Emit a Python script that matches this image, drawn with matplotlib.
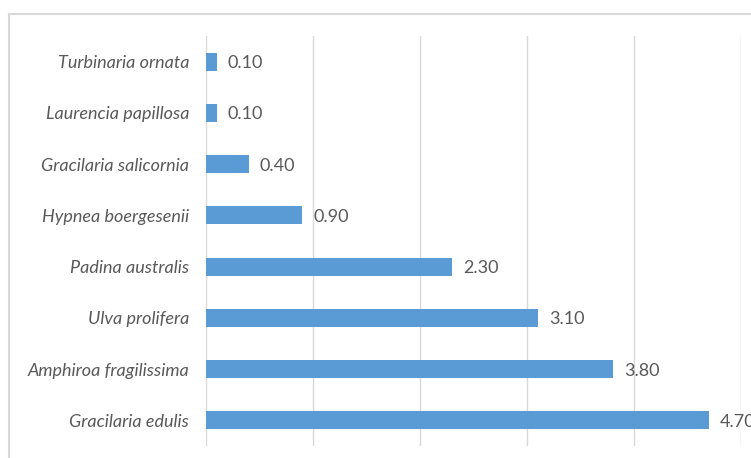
import matplotlib.pyplot as plt
from matplotlib.lines import Line2D

# species listed bottom to top
species = ["Gracilaria edulis", "Amphiroa fragilissima", "Ulva prolifera",
           "Padina australis", "Hypnea boergesenii", "Gracilaria salicornia",
           "Laurencia papillosa", "Turbinaria ornata"]
values = [4.70, 3.80, 3.10, 2.30, 0.90, 0.40, 0.10, 0.10]

W, H = 751, 458
fig = plt.figure(figsize=(W / 100, H / 100), dpi=100)
ax = fig.add_axes([206 / W, 1 - 446 / H, 535 / W, 410 / H])

pos = list(range(len(species)))
ax.barh(pos, values, height=0.35, color="#5B9BD5", zorder=3)

for y, v in zip(pos, values):
    ax.annotate(f"{v:.2f}", (v, y), xytext=(8, -1), textcoords="offset points",
                va="center", ha="left", fontsize=13, color="#595959",
                family="Lato", annotation_clip=False)

ax.set_xlim(0, 5)
ax.set_ylim(-0.5, 7.5)
ax.set_xticks([0, 1, 2, 3, 4, 5])
ax.set_xticklabels([])
ax.grid(axis="x", color="#d9d9d9", linewidth=1, zorder=0)
ax.set_yticks(pos)
ax.set_yticklabels(species, fontsize=13, color="#595959", family="Lato", style="italic")
ax.tick_params(axis="both", length=0)
ax.tick_params(axis="y", pad=12)
for s in ax.spines.values():
    s.set_visible(False)

# outer chart frame (only top and left edges visible in the crop)
fig.add_artist(Line2D([9 / W, 1], [1 - 14 / H, 1 - 14 / H], color="#d9d9d9", linewidth=1.5))
fig.add_artist(Line2D([9 / W, 9 / W], [0, 1 - 14 / H], color="#d9d9d9", linewidth=1.5))

fig.savefig("out.png", dpi=100)
